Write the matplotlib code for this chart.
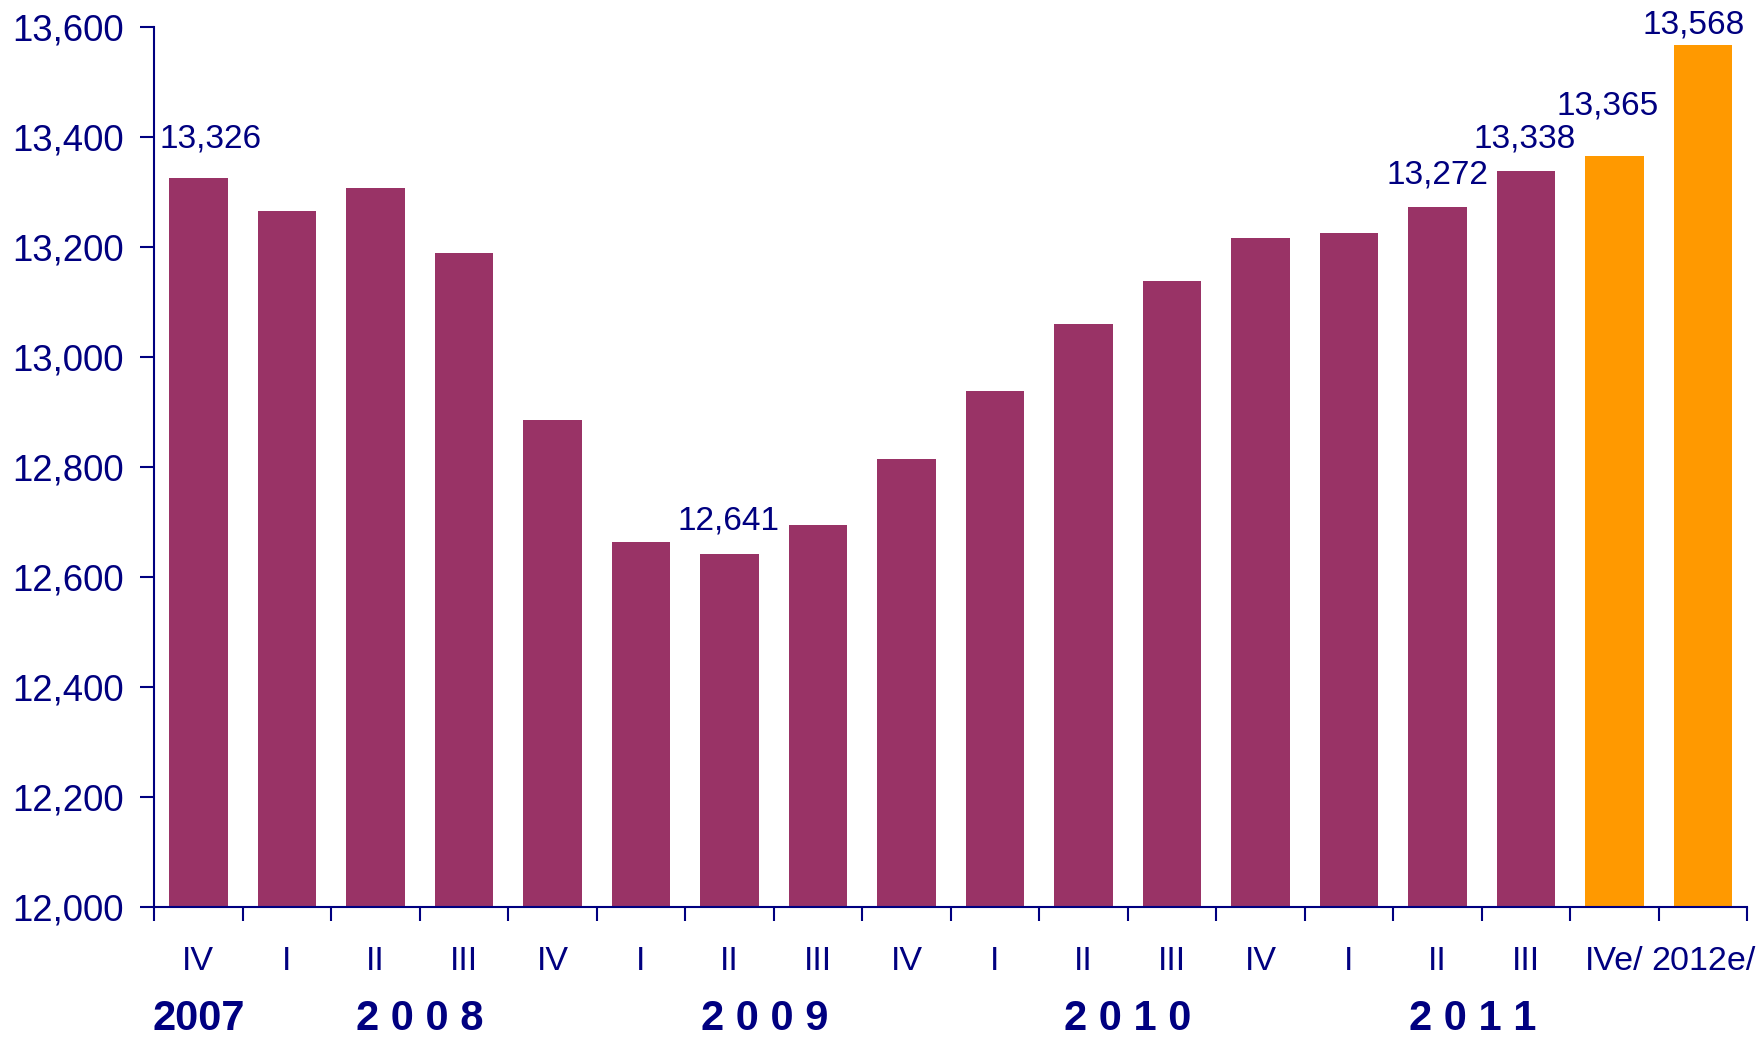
import matplotlib.pyplot as plt
from matplotlib.ticker import FuncFormatter
import matplotlib.transforms as mtransforms

plt.rcParams['font.family'] = ['Liberation Sans', 'DejaVu Sans']

# Quarterly values
quarters = ['IV', 'I', 'II', 'III', 'IV', 'I', 'II', 'III', 'IV',
            'I', 'II', 'III', 'IV', 'I', 'II', 'III', 'IVe/', '2012e/']
values = [13326, 13266, 13307, 13189, 12886, 12664, 12641, 12694, 12814,
          12939, 13060, 13138, 13217, 13225, 13272, 13338, 13365, 13568]
is_estimate = [False] * 16 + [True, True]

years = ['2007', '2 0 0 8', '2 0 0 9', '2 0 1 0', '2 0 1 1']
year_x = [0, 2.5, 6.4, 10.5, 14.4]

# bars that carry a value label, with small offsets (points) as in the original
labelled = [0, 6, 14, 15, 16, 17]
label_dx = [9, -1, 0, -1, -5, -7]
label_dy = [28, 24, 23, 23, 36, 14]

NAVY = '#000080'
PURPLE = '#993366'
ORANGE = '#FF9900'

fig = plt.figure(figsize=(17.65, 10.37), dpi=100)
ax = fig.add_axes([0.0873, 0.1254, 0.9027, 0.8486])

x = list(range(len(values)))
colors = [ORANGE if e else PURPLE for e in is_estimate]
ax.bar(x, [v - 12000 for v in values], bottom=12000, width=0.66, color=colors, zorder=2)

ax.set_xlim(-0.5, len(values) - 0.5)
ax.set_ylim(12000, 13600)
ax.set_yticks(range(12000, 13601, 200))
ax.yaxis.set_major_formatter(FuncFormatter(lambda v, p: f'{int(v):,}'))

# tick marks on category boundaries, labels at centres
ax.set_xticks([i - 0.5 for i in range(len(values) + 1)])
ax.set_xticklabels([])
ax.set_xticks(x, minor=True)
ax.set_xticklabels(quarters, minor=True)
ax.tick_params(axis='x', which='major', direction='out', length=10, width=1.5, color=NAVY)
ax.tick_params(axis='x', which='minor', length=0, pad=28, labelsize=24.5, labelcolor=NAVY)
ax.tick_params(axis='y', direction='out', length=10, width=1.5, color=NAVY,
               labelsize=26.3, labelcolor=NAVY, pad=12)

for s in ['top', 'right']:
    ax.spines[s].set_visible(False)
for s in ['left', 'bottom']:
    ax.spines[s].set_color(NAVY)
    ax.spines[s].set_linewidth(1.5)

for i, dx, dy in zip(labelled, label_dx, label_dy):
    ax.annotate(f'{values[i]:,}', xy=(i, values[i]), xytext=(dx, dy),
                textcoords='offset points', ha='center', va='center',
                fontsize=24, color=NAVY, zorder=3)

trans = mtransforms.blended_transform_factory(ax.transData, ax.transAxes)
for yx, yl in zip(year_x, years):
    ax.text(yx, -0.127, yl, transform=trans, ha='center', va='center',
            fontsize=30, fontweight='bold', color=NAVY)

fig.savefig('out.png', dpi=100, facecolor='white')
